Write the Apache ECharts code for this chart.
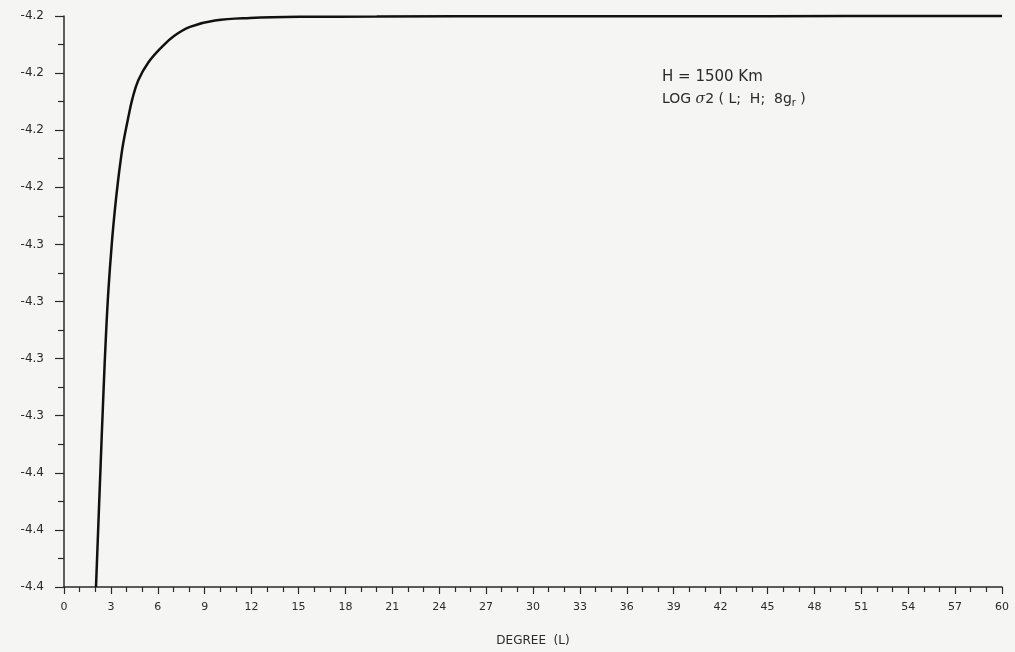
<!DOCTYPE html>
<html>
<head>
<meta charset="utf-8">
<script src="https://cdn.jsdelivr.net/npm/echarts@6/dist/echarts.min.js"></script>
<style>
  html, body { margin: 0; padding: 0; background: #f5f5f3; }
  #chart { width: 1015px; height: 652px; }
</style>
</head>
<body>
<div id="chart"></div>
<script>
// Data
const degree = [2.047, 2.303, 2.527, 2.687, 2.846, 3.058, 3.262, 3.473, 3.646, 3.793, 4.113, 4.369, 4.753, 5.392, 6.250, 7.036, 8.060, 9.659, 11.898, 15.096, 20, 30, 40, 50, 60];
const logSigma = [-4.4000, -4.3629, -4.3315, -4.3115, -4.2956, -4.2797, -4.2675, -4.2570, -4.2497, -4.2444, -4.2355, -4.2291, -4.2225, -4.2163, -4.2109, -4.2070, -4.2038, -4.2016, -4.2007, -4.2003, -4.2002, -4.2001, -4.2001, -4.2000, -4.2000];
// y tick labels from bottom to top (as printed, rounded)
const yTickLabels = ['-4.4', '-4.4', '-4.4', '-4.3', '-4.3', '-4.3', '-4.3', '-4.2', '-4.2', '-4.2', '-4.2'];
const yMin = -4.40, yMax = -4.20, yStep = 0.02;
const xMin = 0, xMax = 60, xStep = 3;
const annotation1 = 'H = 1500 Km';
const xAxisName = 'DEGREE  (L)';

const ink = '#2a2a2a';
const chart = echarts.init(document.getElementById('chart'));
chart.setOption({
  backgroundColor: '#f5f5f3',
  animation: false,
  grid: { left: 64, right: 13, top: 16, bottom: 61, containLabel: false },
  xAxis: {
    type: 'value', min: xMin, max: xMax, interval: xStep,
    name: xAxisName, nameLocation: 'middle', nameGap: 48,
    nameTextStyle: { color: ink, fontSize: 12, fontFamily: 'DejaVu Sans' },
    axisLine: { show: true, lineStyle: { color: ink, width: 1.5 } },
    axisTick: { show: true, length: 7, lineStyle: { color: ink, width: 1.2 } },
    minorTick: { show: true, splitNumber: 3, length: 5, lineStyle: { color: ink, width: 1.2 } },
    axisLabel: { color: ink, fontSize: 11, margin: 15, fontFamily: 'DejaVu Sans' },
    splitLine: { show: false }
  },
  yAxis: {
    type: 'value', min: yMin, max: yMax, interval: yStep,
    axisLine: { show: true, lineStyle: { color: ink, width: 1.5 } },
    axisTick: { show: true, length: 9, lineStyle: { color: ink, width: 1.2 } },
    minorTick: { show: true, splitNumber: 2, length: 6, lineStyle: { color: ink, width: 1.2 } },
    axisLabel: {
      color: ink, fontSize: 12, margin: 20, fontFamily: 'DejaVu Sans',
      formatter: function (v) {
        const i = Math.round((v - yMin) / yStep);
        return yTickLabels[i] !== undefined ? yTickLabels[i] : '';
      }
    },
    splitLine: { show: false }
  },
  series: [{
    type: 'line',
    data: degree.map((d, i) => [d, logSigma[i]]),
    smooth: 0.4,
    showSymbol: false,
    clip: false,
    lineStyle: { color: '#111', width: 2.5 }
  }],
  graphic: [
    {
      type: 'text', left: 662, top: 70,
      style: { text: annotation1, fill: ink, font: '15px "DejaVu Sans"' }
    },
    {
      type: 'text', left: 662, top: 92,
      style: {
        text: '{a|LOG }{g|σ}{a|2 ( L;  H;  8g}{s|r}{a| )}',
        rich: {
          a: { fill: ink, fontSize: 14, fontFamily: 'DejaVu Sans' },
          g: { fill: ink, fontSize: 14, fontFamily: 'DejaVu Serif', fontStyle: 'italic' },
          s: { fill: ink, fontSize: 10, fontFamily: 'DejaVu Sans', padding: [8, 0, 0, 0] }
        }
      }
    }
  ]
});
</script>
</body>
</html>
